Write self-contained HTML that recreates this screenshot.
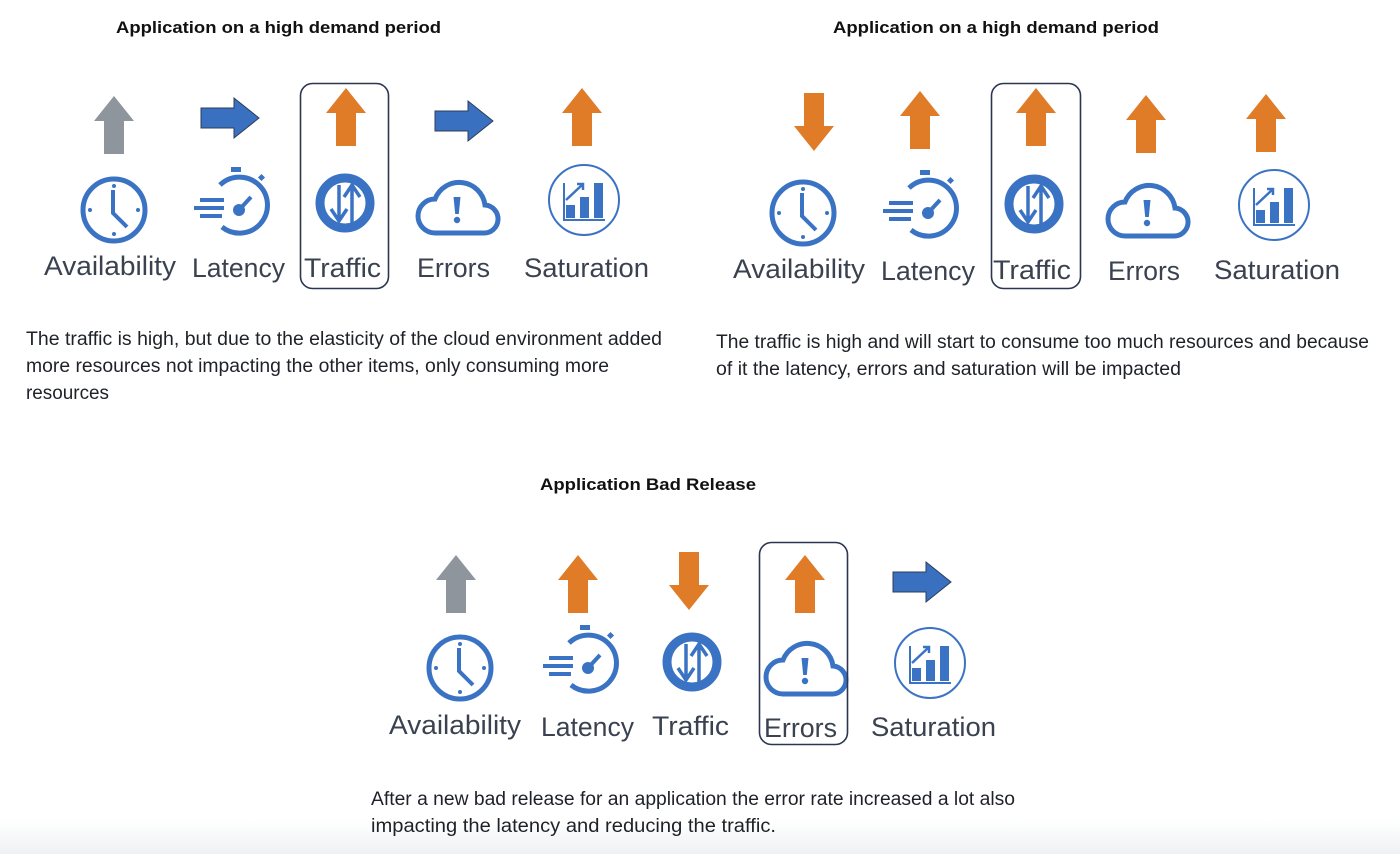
<!DOCTYPE html>
<html><head><meta charset="utf-8"><style>
html,body{margin:0;padding:0;background:#fff;}
svg{display:block;}
text{font-family:"Liberation Sans",sans-serif;}
.t{font-weight:bold;font-size:17px;fill:#111;}
.p{font-size:19px;fill:#1e2228;}
.l{font-size:27px;fill:#3a4250;}
</style></head><body>
<svg width="1400" height="854" viewBox="0 0 1400 854" xmlns="http://www.w3.org/2000/svg">
<defs>
<linearGradient id="bg" x1="0" y1="0" x2="0" y2="1"><stop offset="0" stop-color="#fff"/><stop offset="1" stop-color="#eef1f2"/></linearGradient>
<symbol id="up" overflow="visible"><polygon points="0,-29 20,-4 10,-4 10,29 -10,29 -10,-4 -20,-4"/></symbol>
<symbol id="down" overflow="visible"><polygon points="0,29 20,4 10,4 10,-29 -10,-29 -10,4 -20,4"/></symbol>
<symbol id="right" overflow="visible"><polygon points="29,0 4,20 4,10 -29,10 -29,-10 4,-10 4,-20" fill="#3a70c0" stroke="#2c3e5a" stroke-width="1"/></symbol>
<symbol id="clock" overflow="visible" fill="none" stroke="#3b73c4">
<circle r="31" stroke-width="5"/>
<path d="M-1,-20 V3 L13,17" stroke-width="4"/>
<g fill="#3b73c4" stroke="none"><circle cx="0" cy="-24" r="2"/><circle cx="0" cy="24" r="2"/><circle cx="-24" cy="0" r="2"/><circle cx="24" cy="0" r="2"/></g>
</symbol>
<symbol id="lat" overflow="visible" fill="none" stroke="#3b73c4">
<path d="M-16,-20 A28,28 0 1 1 -14,22" stroke-width="5"/>
<rect x="-5" y="-38" width="10" height="5" fill="#3b73c4" stroke="none"/>
<rect x="23" y="-30" width="5" height="5" fill="#3b73c4" stroke="none" transform="rotate(45 25.5 -27.5)"/>
<g stroke-width="4"><path d="M-36,-5 H-12 M-42,3 H-12 M-36,11 H-14"/></g>
<circle cx="3" cy="5" r="6" fill="#3b73c4" stroke="none"/>
<path d="M3,5 L15,-8" stroke-width="4"/>
</symbol>
<symbol id="traf" overflow="visible" fill="none" stroke="#3b73c4">
<circle r="25" stroke-width="9"/>
<path d="M-6,-18 V18 M-14,6 L-6,18 L2,6" stroke-width="3.5"/>
<path d="M7,20 V-18 M-1,-6 L7,-18 L15,-6" stroke-width="3.5"/>
</symbol>
<symbol id="cloud" overflow="visible">
<path d="M-22,26 H26 A14,14 0 0 0 28,-2 A26,26 0 0 0 -22,-8 A17,17 0 0 0 -22,26 Z" fill="none" stroke="#3b73c4" stroke-width="5"/>
<path d="M-3.5,-10 H3.5 L1.8,7 H-1.8 Z" fill="#3b73c4"/><circle cx="0" cy="13" r="3.2" fill="#3b73c4"/>
</symbol>
<symbol id="sat" overflow="visible">
<circle r="35" fill="none" stroke="#3b73c4" stroke-width="2"/>
<g fill="#3b73c4"><rect x="-18" y="5" width="9" height="13"/><rect x="-4" y="-3" width="9" height="21"/><rect x="10" y="-17" width="9" height="35"/>
<rect x="-21" y="-17" width="2" height="38"/><rect x="-21" y="19" width="42" height="2"/></g>
<path d="M-18,0 L-2,-15 M-7,-16 L-1,-16 L-1,-10" stroke="#3b73c4" stroke-width="2.5" fill="none"/>
</symbol>
</defs>
<rect width="1400" height="854" fill="#fff"/>
<rect y="820" width="1400" height="34" fill="url(#bg)"/>

<!-- Panel 1 -->
<text class="t" x="116" y="33" textLength="325" lengthAdjust="spacingAndGlyphs">Application on a high demand period</text>
<use href="#up" x="114" y="125" fill="#8f959c"/>
<use href="#right" x="230" y="118"/>
<use href="#up" x="346" y="117" fill="#e07b28"/>
<use href="#right" x="464" y="121"/>
<use href="#up" x="582" y="117" fill="#e07b28"/>
<use href="#clock" x="114" y="210"/>
<use href="#lat" x="236" y="205"/>
<use href="#traf" x="345" y="203"/>
<use href="#cloud" x="457" y="207"/>
<use href="#sat" x="584" y="200"/>
<rect x="300.5" y="83.5" width="88" height="205" rx="12" fill="none" stroke="#2c3650" stroke-width="1.6"/>
<text class="l" x="44" y="275" textLength="132" lengthAdjust="spacingAndGlyphs">Availability</text>
<text class="l" x="192" y="277" textLength="93" lengthAdjust="spacingAndGlyphs">Latency</text>
<text class="l" x="304" y="277" textLength="77" lengthAdjust="spacingAndGlyphs">Traffic</text>
<text class="l" x="417" y="277" textLength="73" lengthAdjust="spacingAndGlyphs">Errors</text>
<text class="l" x="524" y="277" textLength="125" lengthAdjust="spacingAndGlyphs">Saturation</text>
<text class="p" x="26" y="345" textLength="636" lengthAdjust="spacingAndGlyphs">The traffic is high, but due to the elasticity of the cloud environment added</text>
<text class="p" x="26" y="372" textLength="583" lengthAdjust="spacingAndGlyphs">more resources not impacting the other items, only consuming more</text>
<text class="p" x="26" y="399" textLength="83" lengthAdjust="spacingAndGlyphs">resources</text>

<!-- Panel 2 -->
<text class="t" x="833" y="33" textLength="326" lengthAdjust="spacingAndGlyphs">Application on a high demand period</text>
<use href="#down" x="814" y="122" fill="#e07b28"/>
<use href="#up" x="920" y="120" fill="#e07b28"/>
<use href="#up" x="1036" y="117" fill="#e07b28"/>
<use href="#up" x="1146" y="124" fill="#e07b28"/>
<use href="#up" x="1266" y="123" fill="#e07b28"/>
<use href="#clock" x="803" y="213"/>
<use href="#lat" x="925" y="208"/>
<use href="#traf" x="1034" y="204"/>
<use href="#cloud" x="1147" y="210"/>
<use href="#sat" x="1274" y="205"/>
<rect x="991.5" y="83.5" width="89" height="205" rx="12" fill="none" stroke="#2c3650" stroke-width="1.6"/>
<text class="l" x="733" y="278" textLength="132" lengthAdjust="spacingAndGlyphs">Availability</text>
<text class="l" x="881" y="280" textLength="94" lengthAdjust="spacingAndGlyphs">Latency</text>
<text class="l" x="993" y="279" textLength="78" lengthAdjust="spacingAndGlyphs">Traffic</text>
<text class="l" x="1108" y="280" textLength="72" lengthAdjust="spacingAndGlyphs">Errors</text>
<text class="l" x="1214" y="279" textLength="126" lengthAdjust="spacingAndGlyphs">Saturation</text>
<text class="p" x="716" y="348" textLength="653" lengthAdjust="spacingAndGlyphs">The traffic is high and will start to consume too much resources and because</text>
<text class="p" x="716" y="375" textLength="465" lengthAdjust="spacingAndGlyphs">of it the latency, errors and saturation will be impacted</text>

<!-- Panel 3 -->
<text class="t" x="540" y="490" textLength="216" lengthAdjust="spacingAndGlyphs">Application Bad Release</text>
<use href="#up" x="456" y="584" fill="#8f959c"/>
<use href="#up" x="578" y="584" fill="#e07b28"/>
<use href="#down" x="689" y="581" fill="#e07b28"/>
<use href="#up" x="805" y="584" fill="#e07b28"/>
<use href="#right" x="922" y="582"/>
<use href="#clock" x="460" y="668"/>
<use href="#lat" x="585" y="663"/>
<use href="#traf" x="692" y="662"/>
<use href="#cloud" x="805" y="668"/>
<use href="#sat" x="930" y="663"/>
<rect x="759.5" y="542.5" width="88" height="202" rx="12" fill="none" stroke="#2c3650" stroke-width="1.6"/>
<text class="l" x="389" y="734" textLength="132" lengthAdjust="spacingAndGlyphs">Availability</text>
<text class="l" x="541" y="736" textLength="93" lengthAdjust="spacingAndGlyphs">Latency</text>
<text class="l" x="652" y="735" textLength="77" lengthAdjust="spacingAndGlyphs">Traffic</text>
<text class="l" x="764" y="737" textLength="73" lengthAdjust="spacingAndGlyphs">Errors</text>
<text class="l" x="871" y="736" textLength="125" lengthAdjust="spacingAndGlyphs">Saturation</text>
<text class="p" x="371" y="805" textLength="644" lengthAdjust="spacingAndGlyphs">After a new bad release for an application the error rate increased a lot also</text>
<text class="p" x="371" y="832" textLength="405" lengthAdjust="spacingAndGlyphs">impacting the latency and reducing the traffic.</text>
</svg>
</body></html>
